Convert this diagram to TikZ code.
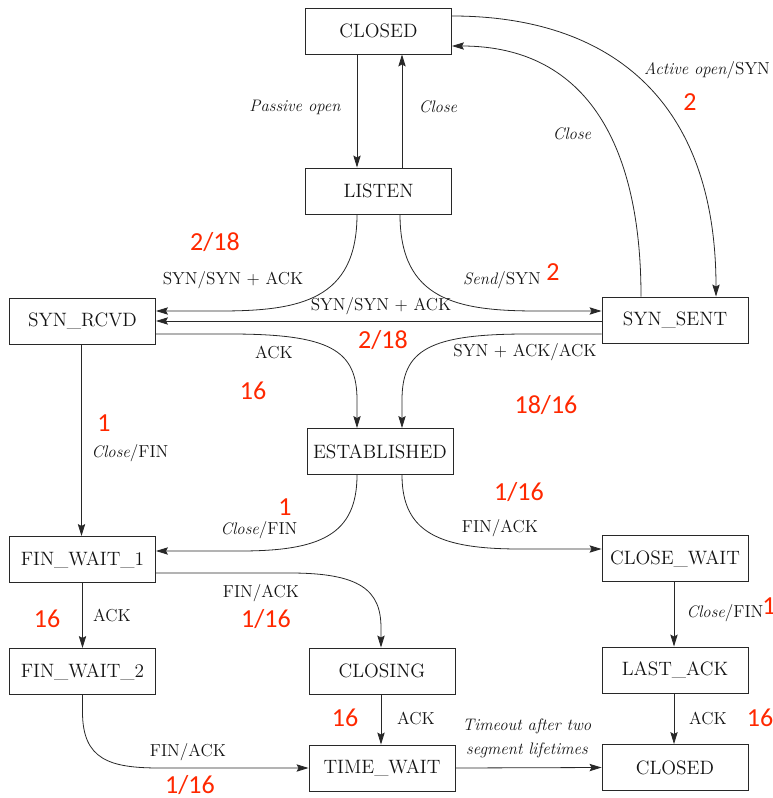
\documentclass[tikz,border=0pt]{standalone}
\usepackage{fontspec}
\newfontfamily\numfont{Carlito}
\usetikzlibrary{arrows.meta,calc}
\definecolor{numred}{RGB}{255,40,0}
\definecolor{ink}{RGB}{40,40,40}
\definecolor{txt}{RGB}{20,20,20}
\tikzset{
  state/.style={draw=ink, line width=0.7pt, minimum width=109.5pt, minimum height=34.5pt, inner sep=0pt, font=\fontsize{14.5}{16}\selectfont, text=txt},
  lbl/.style={inner sep=0pt, font=\fontsize{13}{16}\selectfont, text=txt},
  ilbl/.style={inner sep=0pt, font=\fontsize{12.5}{16}\selectfont\itshape, text=txt},
  num/.style={inner sep=0pt, font=\fontsize{19.5}{22}\selectfont\numfont, text=numred},
  conn/.style={draw=ink, line width=0.6pt, -{Stealth[length=9pt,width=5.5pt,inset=1.5pt]}}
}
\newcommand{\itpart}[1]{{\itshape\fontsize{12.5}{16}\selectfont #1}}
\begin{document}
\begin{tikzpicture}[x=0.75pt,y=-0.75pt]
\useasboundingbox (0,0) rectangle (773,798);
% states
\node[state] (closedT) at (378.5,31) {CLOSED};
\node[state] (listen) at (378.5,191) {LISTEN};
\node[state] (synr) at (82.5,321) {SYN\_RCVD};
\node[state] (syns) at (675,320) {SYN\_SENT};
\node[state] (est) at (380,451.5) {ESTABLISHED};
\node[state] (fw1) at (82.5,559.5) {FIN\_WAIT\_1};
\node[state] (cw) at (675,558.5) {CLOSE\_WAIT};
\node[state] (fw2) at (82.5,671.5) {FIN\_WAIT\_2};
\node[state] (closing) at (382,671) {CLOSING};
\node[state] (lastack) at (675,670) {LAST\_ACK};
\node[state] (tw) at (382,768) {TIME\_WAIT};
\node[state] (closedB) at (675,767.5) {CLOSED};

% CLOSED <-> LISTEN
\draw[conn] ($(closedT.south)+(-21.5,0)$) -- ($(listen.north)+(-21.5,0)$);
\draw[conn] ($(listen.north)+(23.5,0)$) -- ($(closedT.south)+(23.5,0)$);
% SYN_SENT -> CLOSED (Close)
\draw[conn] ($(syns.north)+(-34,0)$) .. controls (641,150) and (590,46) .. ($(closedT.east)+(0,15)$);
% CLOSED -> SYN_SENT (Active open)
\draw[conn] ($(closedT.east)+(0,-15)$) .. controls (605,16) and (716,95) .. ($(syns.north)+(41,0)$);
% LISTEN -> SYN_RCVD
\draw[conn] ($(listen.south)+(-21.5,0)$) .. controls (357,300) and (300,311) .. (220,311) -- ($(synr.east)+(0,-10)$);
% LISTEN -> SYN_SENT
\draw[conn] ($(listen.south)+(21.5,0)$) .. controls (400,300) and (457,311) .. (537,311) -- ($(syns.west)+(0,-9)$);
% SYN_SENT -> SYN_RCVD
\draw[conn] ($(syns.west)+(0,1)$) -- ($(synr.east)+(0,0)$);
% SYN_RCVD -> ESTABLISHED
\draw[conn] ($(synr.east)+(0,13)$) -- (230,334) .. controls (330,334) and (357,350) .. (357,400) -- ($(est.north)+(-23,0)$);
% SYN_SENT -> ESTABLISHED
\draw[conn] ($(syns.west)+(0,14)$) -- (527,334) .. controls (429,334) and (402,350) .. (402,400) -- ($(est.north)+(22,0)$);
% SYN_RCVD -> FIN_WAIT_1
\draw[conn] ($(synr.south)+(-1,0)$) -- ($(fw1.north)+(-1,0)$);
% ESTABLISHED -> FIN_WAIT_1
\draw[conn] ($(est.south)+(-23,0)$) .. controls (357,535) and (320,551) .. (240,551) -- ($(fw1.east)+(0,-8.5)$);
% ESTABLISHED -> CLOSE_WAIT
\draw[conn] ($(est.south)+(22,0)$) .. controls (402,533) and (440,549) .. (520,549) -- ($(cw.west)+(0,-9.5)$);
% FIN_WAIT_1 -> CLOSING
\draw[conn] ($(fw1.east)+(0,13.5)$) -- (290,573) .. controls (360,573) and (381,590) .. (381,628) -- ($(closing.north)+(-1,0)$);
% FIN_WAIT_1 -> FIN_WAIT_2
\draw[conn] (fw1.south) -- (fw2.north);
% CLOSE_WAIT -> LAST_ACK
\draw[conn] ($(cw.south)+(-1,0)$) -- ($(lastack.north)+(-1,0)$);
% FIN_WAIT_2 -> TIME_WAIT
\draw[conn] (fw2.south) -- (82.5,712) .. controls (82.5,760) and (110,768) .. (160,768) -- (tw.west);
% CLOSING -> TIME_WAIT
\draw[conn] ($(closing.south)+(-1,0)$) -- ($(tw.north)+(-1,0)$);
% LAST_ACK -> CLOSED
\draw[conn] ($(lastack.south)+(-1,0)$) -- ($(closedB.north)+(-1,0)$);
% TIME_WAIT -> CLOSED
\draw[conn] (tw.east) -- (closedB.west);

% labels
\node[ilbl] (l1) at (295,107) {Passive open};
\node[ilbl] (l2) at (438,107) {Close};
\node[ilbl] (l3) at (572,134) {Close};
\node[lbl] (l4) at (707,70) {\itpart{Active open}/SYN};
\node[lbl] (l5) at (233,280) {SYN/SYN + ACK};
\node[lbl] (l6) at (502,280) {\itpart{Send}/SYN};
\node[lbl] (l7) at (381,306) {SYN/SYN + ACK};
\node[lbl] (l8) at (274,352) {ACK};
\node[lbl] (l9) at (525,352) {SYN + ACK/ACK};
\node[lbl] (l10) at (130,453) {\itpart{Close}/FIN};
\node[lbl] (l11) at (259,530) {\itpart{Close}/FIN};
\node[lbl] (l12) at (500,528) {FIN/ACK};
\node[lbl] (l13) at (261,593) {FIN/ACK};
\node[lbl] (l14) at (112,615) {ACK};
\node[lbl] (l15) at (725,613) {\itpart{Close}/FIN};
\node[lbl] (l16) at (416,718) {ACK};
\node[lbl] (l17) at (708,718) {ACK};
\node[ilbl] (l18) at (527,726) {Timeout after two};
\node[ilbl] (l19) at (527,750) {segment lifetimes};
\node[lbl] (l20) at (188,752) {FIN/ACK};

% red numbers
\node[num] (n1) at (690,102) {2};
\node[num] (n2) at (215,242) {2/18};
\node[num] (n3) at (553,272) {2};
\node[num] (n4) at (383,340) {2/18};
\node[num] (n5) at (253,391) {16};
\node[num] (n6) at (546,405) {18/16};
\node[num] (n7) at (104,423) {1};
\node[num] (n8) at (285,507) {1};
\node[num] (n9) at (519,492) {1/16};
\node[num] (n10) at (266,619) {1/16};
\node[num] (n11) at (47,619) {16};
\node[num] (n12) at (769,606) {1};
\node[num] (n13) at (345,718) {16};
\node[num] (n14) at (760,718) {16};
\node[num] (n15) at (190,785) {1/16};
\end{tikzpicture}
\end{document}
